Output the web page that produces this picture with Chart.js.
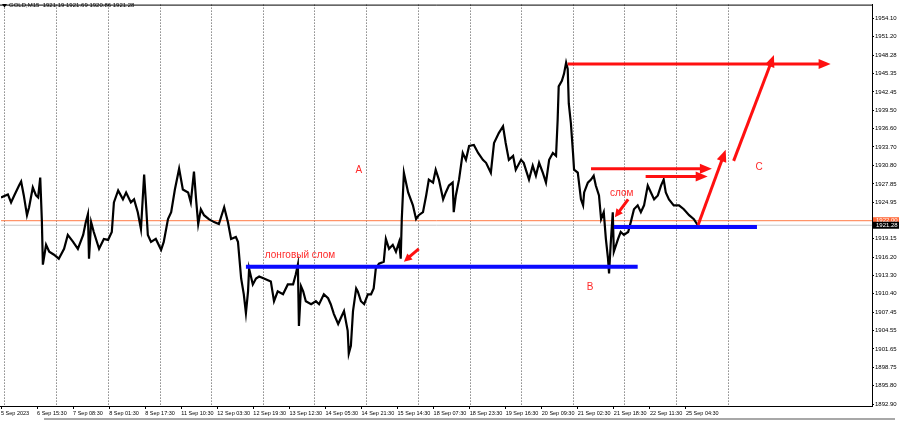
<!DOCTYPE html>
<html>
<head>
<meta charset="utf-8">
<script src="https://cdn.jsdelivr.net/npm/chart.js@4.4.0/dist/chart.umd.min.js"></script>
<style>
  html, body { margin: 0; padding: 0; background: #fff; }
  #wrap { width: 900px; height: 424px; position: relative; }
</style>
</head>
<body>
<div id="wrap"><canvas id="chart"></canvas></div>
<script>
  // M15 bar index (0 = 5 Sep 2023 label) and price
  const bars = [0, 13, 19, 25, 34, 38, 43, 49, 53, 60, 66, 70, 74, 77, 79, 85, 91, 100, 109, 119,
    126, 136, 145, 155, 160, 164, 166, 170, 175, 185, 194, 202, 209, 213, 221, 230, 236, 245, 251, 258,
    264, 270, 273, 277, 283, 292, 302, 307, 315, 321, 328, 336, 343, 353, 358, 364, 368, 372, 377, 383,
    392, 402, 411, 421, 428, 434, 443, 447, 453, 458, 462, 466, 468, 475, 481, 487, 496, 509, 515, 522,
    532, 541, 551, 556, 560, 562, 566, 570, 575, 585, 594, 600, 609, 617, 622, 628, 636, 641, 647, 654,
    656, 660, 664, 670, 673, 679, 685, 692, 698, 703, 707, 713, 722, 726, 732, 739, 745, 751, 754, 756,
    760, 768, 777, 783, 788, 796, 802, 807, 815, 820, 826, 834, 839, 845, 852, 854, 858, 864, 871, 877,
    883, 892, 900, 909, 915, 924, 930, 939, 947, 952, 958, 966, 971, 981, 986, 996, 1003, 1009, 1015, 1022,
    1028, 1034, 1041, 1047, 1050, 1052, 1058, 1062, 1066, 1069, 1071, 1075, 1079, 1081, 1088, 1094, 1098, 1100, 1107, 1113,
    1118, 1122, 1128, 1132, 1137, 1141, 1145, 1147, 1150, 1154, 1156, 1164, 1169, 1175, 1183, 1188, 1194, 1201, 1207, 1213,
    1220, 1226, 1232, 1239, 1245, 1250, 1254, 1260, 1269, 1279, 1288, 1298, 1307, 1315];
  const prices = [1925.70, 1926.17, 1924.91, 1926.01, 1927.58, 1928.21, 1926.01, 1922.87, 1924.13, 1927.27, 1926.01, 1925.70, 1928.84, 1922.25, 1915.03, 1918.17, 1917.07, 1916.60, 1915.97, 1917.54,
    1919.74, 1918.64, 1917.54, 1919.74, 1921.78, 1923.03, 1915.97, 1921.78, 1920.21, 1917.54, 1919.11, 1918.95, 1920.21, 1924.91, 1926.80, 1925.39, 1926.48, 1924.91, 1925.39, 1923.35,
    1920.68, 1929.31, 1925.39, 1919.74, 1918.64, 1919.11, 1917.38, 1918.64, 1922.25, 1923.35, 1926.95, 1930.25, 1926.95, 1926.48, 1924.91, 1929.78, 1925.39, 1921.46, 1923.82, 1922.87,
    1922.25, 1921.78, 1921.46, 1924.13, 1921.78, 1919.11, 1919.42, 1918.64, 1912.83, 1910.32, 1907.34, 1910.79, 1914.40, 1911.89, 1912.83, 1913.15, 1912.83, 1912.36, 1909.22, 1910.79,
    1910.32, 1911.89, 1911.89, 1913.46, 1915.03, 1905.30, 1911.58, 1910.79, 1909.22, 1908.75, 1909.22, 1908.75, 1910.32, 1909.69, 1908.75, 1907.18, 1905.61, 1906.56, 1907.65, 1904.51,
    1900.90, 1902.16, 1907.65, 1911.26, 1910.79, 1909.22, 1908.75, 1910.32, 1910.32, 1911.26, 1914.40, 1915.19, 1915.50, 1919.11, 1917.54, 1918.17, 1917.07, 1918.64, 1915.97, 1922.25,
    1929.62, 1926.48, 1924.44, 1922.25, 1922.87, 1923.35, 1926.01, 1928.52, 1928.05, 1930.09, 1928.52, 1925.39, 1926.48, 1927.58, 1928.05, 1923.35, 1926.01, 1928.52, 1932.76, 1931.66,
    1933.86, 1934.02, 1932.76, 1931.66, 1931.19, 1929.62, 1934.33, 1935.90, 1936.99, 1934.33, 1931.66, 1932.29, 1930.09, 1931.66, 1931.19, 1928.52, 1930.72, 1929.15, 1931.19, 1929.62,
    1928.05, 1931.66, 1932.76, 1932.29, 1937.94, 1943.32, 1944.22, 1945.31, 1947.10, 1946.10, 1940.61, 1937.47, 1932.76, 1930.09, 1929.62, 1925.39, 1924.44, 1926.48, 1928.05, 1928.52,
    1929.15, 1927.58, 1926.01, 1922.25, 1923.35, 1919.11, 1915.97, 1913.62, 1918.17, 1923.35, 1917.07, 1919.11, 1920.21, 1919.74, 1920.21, 1921.78, 1923.82, 1924.44, 1923.35, 1924.44,
    1927.58, 1926.48, 1925.39, 1926.01, 1927.58, 1928.52, 1926.48, 1925.39, 1924.44, 1924.44, 1923.82, 1922.87, 1922.25, 1921.20];

  const timeLabels = ["5 Sep 2023", "6 Sep 15:30", "7 Sep 08:30", "8 Sep 01:30", "8 Sep 17:30",
    "11 Sep 10:30", "12 Sep 03:30", "12 Sep 19:30", "13 Sep 12:30", "14 Sep 05:30", "14 Sep 21:30",
    "15 Sep 14:30", "18 Sep 07:30", "18 Sep 23:30", "19 Sep 16:30", "20 Sep 09:30", "21 Sep 02:30",
    "21 Sep 18:30", "22 Sep 11:30", "25 Sep 04:30"];
  const barsPerLabel = 68; // 17 hours of M15 bars between labels
  const labelBars = timeLabels.map((_, i) => i * barsPerLabel);
  const gridBars = [6, 104, 201, 299, 396, 494, 591, 689, 786, 884, 981, 1079, 1176, 1274, 1371];

  const priceTicks = [1954.10, 1951.20, 1948.28, 1945.35, 1942.45, 1939.50, 1936.60, 1933.70, 1930.80,
    1927.85, 1924.95, 1919.15, 1916.20, 1913.30, 1910.40, 1907.45, 1904.55, 1901.65, 1898.75, 1895.80, 1892.90];
  const askPrice = 1922.00;
  const bidPrice = 1921.28;
  const title = "GOLD,M15  1921.19 1921.69 1920.86 1921.28";

  // drawn objects: [startBar, startPrice, endBar, endPrice]
  const blueLevels = [[462, 1914.71, 1201, 1914.71], [1156, 1921.0, 1426, 1921.0]];
  const redArrows = [
    [1069, 1946.88, 1565, 1946.88],
    [1113, 1930.25, 1341, 1930.25],
    [1216, 1929.0, 1333, 1929.0],
    [1315, 1921.31, 1367, 1933.27],
    [1382, 1931.5, 1458, 1948.3],
    [788, 1917.54, 760, 1915.5],
    [1183, 1925.39, 1158, 1922.56]
  ];
  const notes = [["A", 675, 1929.94], ["лонговый слом", 564, 1916.44], ["слом", 1171, 1926.33],
    ["B", 1111, 1911.42], ["C", 1430, 1930.41]];

  const X_MAX = 1643;
  const RED = "#ff1010";

  Chart.defaults.font.family = "'Liberation Sans', Arial, sans-serif";

  const overlay = {
    id: 'overlay',
    beforeDatasetsDraw(chart) {
      const { ctx, chartArea: a, scales: { x } } = chart;
      ctx.save();
      ctx.strokeStyle = "#4a4a4a";
      ctx.lineWidth = 1;
      ctx.setLineDash([1, 2]);
      gridBars.forEach(b => {
        const px = Math.round(x.getPixelForValue(b)) + 0.5;
        ctx.beginPath();
        ctx.moveTo(px, a.top);
        ctx.lineTo(px, a.bottom);
        ctx.stroke();
      });
      ctx.restore();
    },
    afterDatasetsDraw(chart) {
      const { ctx, scales: { x, y } } = chart;
      ctx.save();
      ctx.strokeStyle = RED;
      ctx.fillStyle = RED;
      ctx.lineWidth = 3;
      redArrows.forEach(([b1, p1, b2, p2], i) => {
        const x1 = x.getPixelForValue(b1), y1 = y.getPixelForValue(p1);
        const x2 = x.getPixelForValue(b2), y2 = y.getPixelForValue(p2);
        const ang = Math.atan2(y2 - y1, x2 - x1);
        const small = i >= 5;
        const hl = small ? 8 : 12, hw = small ? 4 : 5;
        ctx.beginPath();
        ctx.moveTo(x1, y1);
        ctx.lineTo(x2 - Math.cos(ang) * hl * 0.8, y2 - Math.sin(ang) * hl * 0.8);
        ctx.stroke();
        ctx.beginPath();
        ctx.moveTo(x2, y2);
        ctx.lineTo(x2 - Math.cos(ang) * hl - Math.sin(ang) * hw, y2 - Math.sin(ang) * hl + Math.cos(ang) * hw);
        ctx.lineTo(x2 - Math.cos(ang) * hl + Math.sin(ang) * hw, y2 - Math.sin(ang) * hl - Math.cos(ang) * hw);
        ctx.closePath();
        ctx.fill();
      });
      ctx.font = "10px 'Liberation Sans', Arial, sans-serif";
      ctx.textAlign = "center";
      ctx.textBaseline = "middle";
      ctx.fillStyle = "#ff2a2a";
      notes.forEach(([t, b, p]) => ctx.fillText(t, x.getPixelForValue(b), y.getPixelForValue(p)));
      ctx.restore();
    },
    afterDraw(chart) {
      const { ctx, chartArea: a, scales: { y } } = chart;
      ctx.save();
      // frame
      ctx.strokeStyle = "#000";
      ctx.lineWidth = 1;
      ctx.beginPath();
      ctx.moveTo(0, a.top + 0.5);
      ctx.lineTo(a.right + 0.5, a.top + 0.5);
      ctx.lineTo(a.right + 0.5, a.bottom + 0.5);
      ctx.lineTo(0, a.bottom + 0.5);
      ctx.stroke();
      // window bottom strip
      ctx.fillStyle = "#a8a8a8";
      ctx.fillRect(44, 418, 851, 2);
      // title
      ctx.fillStyle = "#000";
      ctx.beginPath();
      ctx.moveTo(2, 4); ctx.lineTo(7, 4); ctx.lineTo(4.5, 7.5); ctx.closePath();
      ctx.fill();
      ctx.font = "6px 'Liberation Sans', Arial, sans-serif";
      ctx.textBaseline = "middle";
      ctx.textAlign = "left";
      ctx.fillText(title, 9, 5.5);
      // current price boxes
      const boxes = [[askPrice, "#ff6a3a"], [bidPrice, "#000"]];
      boxes.forEach(([p, c]) => {
        const py = y.getPixelForValue(p);
        ctx.fillStyle = c;
        ctx.fillRect(a.right + 1, py - 3.5, 26, 7);
        ctx.fillStyle = "#fff";
        ctx.fillText(p.toFixed(2), a.right + 4, py);
      });
      ctx.restore();
    }
  };

  new Chart(document.getElementById("chart"), {
    type: 'line',
    data: {
      datasets: [
        {
          data: blueLevels.flatMap(([b1, p1, b2, p2]) => [{ x: b1, y: p1 }, { x: b2, y: p2 }, { x: b2, y: null }]),
          borderColor: "#0a0aff",
          borderWidth: 4,
          pointRadius: 0,
          spanGaps: false,
          order: 0
        },
        {
          data: bars.map((b, i) => ({ x: b, y: prices[i] })),
          borderColor: "#000",
          borderWidth: 2.2,
          pointRadius: 0,
          tension: 0,
          order: 1
        },
        {
          data: [{ x: 0, y: askPrice }, { x: X_MAX, y: askPrice }],
          borderColor: "#ff7a45",
          borderWidth: 1,
          pointRadius: 0,
          order: 2
        },
        {
          data: [{ x: 0, y: bidPrice }, { x: X_MAX, y: bidPrice }],
          borderColor: "#c8c8c8",
          borderWidth: 1,
          pointRadius: 0,
          order: 3
        }
      ]
    },
    options: {
      responsive: true,
      maintainAspectRatio: false,
      animation: false,
      layout: { padding: 0 },
      scales: {
        x: {
          type: 'linear',
          min: 0,
          max: X_MAX,
          afterBuildTicks: s => { s.ticks = labelBars.map(v => ({ value: v })); },
          afterFit: s => { s.height = 18; },
          ticks: {
            autoSkip: false,
            maxRotation: 0,
            align: 'start',
            padding: 1,
            color: "#000",
            font: { size: 5.5 },
            callback: (v) => timeLabels[labelBars.indexOf(v)]
          },
          grid: { drawOnChartArea: false, drawTicks: true, tickLength: 3, color: "#000" },
          border: { display: true, color: "#000" }
        },
        y: {
          type: 'linear',
          position: 'right',
          min: 1892.59,
          max: 1956.30,
          afterBuildTicks: s => { s.ticks = priceTicks.map(v => ({ value: v })); },
          afterFit: s => { s.width = 28; },
          ticks: {
            padding: 1,
            color: "#000",
            font: { size: 6 },
            callback: v => v.toFixed(2)
          },
          grid: { drawOnChartArea: false, drawTicks: true, tickLength: 2, color: "#000" },
          border: { display: true, color: "#000" }
        }
      },
      plugins: {
        legend: { display: false },
        tooltip: { enabled: false }
      }
    },
    plugins: [overlay]
  });
</script>
</body>
</html>
